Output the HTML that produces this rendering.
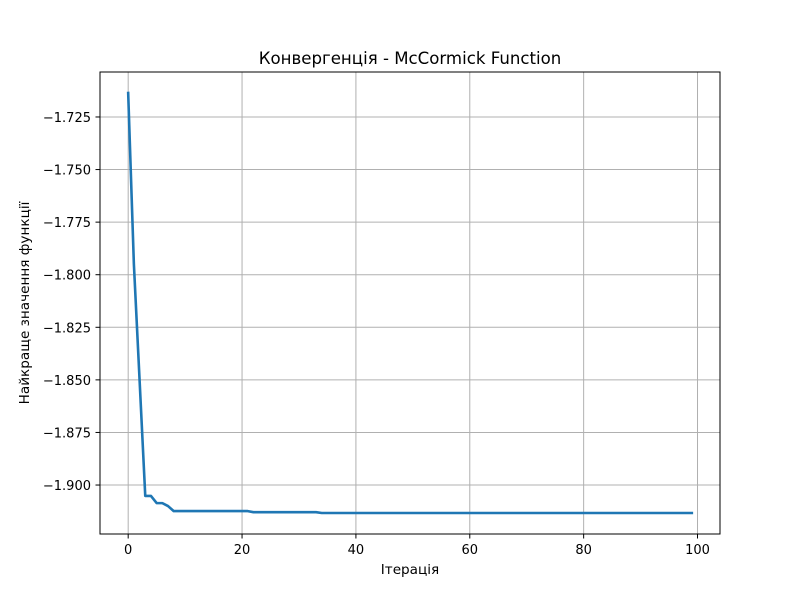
<!DOCTYPE html>
<html><head><meta charset="utf-8"><style>body{margin:0;background:#fff}svg{display:block}text{font-family:"DejaVu Sans","Liberation Sans",sans-serif;fill:#000}</style></head>
<body>
<svg id="chart" width="800" height="600"></svg>
<script>
const xTicks=[0,20,40,60,80,100];
const yTicks=[-1.725,-1.750,-1.775,-1.800,-1.825,-1.850,-1.875,-1.900];
const yTickLabels=["−1.725","−1.750","−1.775","−1.800","−1.825","−1.850","−1.875","−1.900"];
const bestValues=[-1.7136,-1.795,-1.850,-1.9052,-1.9052,-1.9086,-1.9086,-1.9100,-1.9124,-1.9124,-1.9124,-1.9124,-1.9124,-1.9124,-1.9124,-1.9124,-1.9124,-1.9124,-1.9124,-1.9124,-1.9124,-1.9124,-1.9129,-1.9129,-1.9129,-1.9129,-1.9129,-1.9129,-1.9129,-1.9129,-1.9129,-1.9129,-1.9129,-1.9129,-1.9133].concat(new Array(65).fill(-1.9133));
const NS="http://www.w3.org/2000/svg";
const svg=document.getElementById('chart');
const L=100,R=720,T=72,B=534;
const n=bestValues.length;
const xmin=-0.05*(n-1),xmax=(n-1)*1.05;
const dmin=Math.min(...bestValues),dmax=Math.max(...bestValues),pad=(dmax-dmin)*0.05;
const ymin=dmin-pad,ymax=dmax+pad;
const sx=v=>L+(v-xmin)/(xmax-xmin)*(R-L);
const sy=v=>B-(v-ymin)/(ymax-ymin)*(B-T);
function mk(tag,attrs,parent){const e=document.createElementNS(NS,tag);for(const k in attrs)e.setAttribute(k,attrs[k]);(parent||svg).appendChild(e);return e;}
xTicks.forEach(t=>{const x=sx(t);
const g=mk('line',{x1:x,x2:x,y1:T,y2:B,stroke:'#b0b0b0','stroke-width':1});


mk('line',{x1:x,x2:x,y1:B,y2:B+4.5,stroke:'#000','stroke-width':1});
const tx=mk('text',{x:x,y:B+20,'text-anchor':'middle','font-size':13});tx.textContent=t;


});
yTicks.forEach((t,i)=>{const y=sy(t);
const g=mk('line',{x1:L,x2:R,y1:y,y2:y,stroke:'#b0b0b0','stroke-width':1});


mk('line',{x1:L-4.5,x2:L,y1:y,y2:y,stroke:'#000','stroke-width':1});
const tx=mk('text',{x:L-9,y:y+5,'text-anchor':'end','font-size':13});tx.textContent=yTickLabels[i];


});
const pts=bestValues.map((v,i)=>sx(i).toFixed(2)+','+sy(v).toFixed(2)).join(' ');
const line=mk('polyline',{points:pts,fill:'none',stroke:'#1f77b4','stroke-width':2.6,'stroke-linejoin':'round','stroke-linecap':'square'});


const fr=mk('rect',{x:L,y:T,width:R-L,height:B-T,fill:'none',stroke:'#000','stroke-width':1});


const title=mk('text',{x:410,y:64,'text-anchor':'middle','font-size':16.6});title.textContent='Конвергенція - McCormick Function';


const xl=mk('text',{x:410,y:574,'text-anchor':'middle','font-size':13.6});xl.textContent='Ітерація';


const yl=mk('text',{x:29,y:303,'text-anchor':'middle','font-size':13.6,transform:'rotate(-90 29 303)'});yl.textContent='Найкраще значення функції';


</script>
</body></html>
